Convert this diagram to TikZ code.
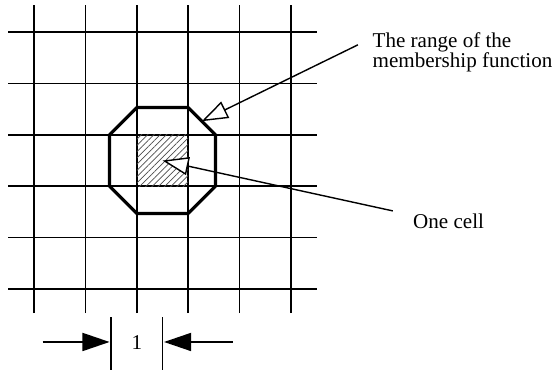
\documentclass[tikz,border=0pt]{standalone}
\usepackage{fontspec}
\setmainfont{Liberation Serif}
\usetikzlibrary{positioning,calc,arrows.meta,patterns.meta}
\tikzset{
  lbl/.style={font=\fontsize{10.5}{10}\selectfont,align=left,inner sep=0pt},
  gridline/.style={line width=0.8pt},
  callout/.style={line width=0.7pt,-{Triangle[fill=white,length=13pt,width=9pt]}},
  dimarrow/.style={line width=0.8pt,-{Triangle[length=13.5pt,width=9pt]}}
}

\begin{document}
\begin{tikzpicture}[x=0.9cm,y=0.9cm]
\useasboundingbox (-0.661,-1.693) rectangle (10.097,5.623);
% grid
\foreach \i in {0,...,5}{
  \draw[gridline] (\i,-0.47)--(\i,5.52);
  \draw[gridline] (-0.5,\i)--(5.5,\i);
}
% one cell
\fill[pattern={Lines[angle=45,distance=2.2pt,line width=0.4pt]},pattern color=black!70] (2,2) rectangle (3,3);
\coordinate (cellmid) at (2.5,2.5);
% range of the membership function
\coordinate (o1) at (2,3.53);
\coordinate (o2) at (3,3.53);
\coordinate (o3) at (3.53,3);
\coordinate (o4) at (3.53,2);
\coordinate (o5) at (3,1.47);
\coordinate (o6) at (2,1.47);
\coordinate (o7) at (1.47,2);
\coordinate (o8) at (1.47,3);
\draw[line width=1.6pt,line join=round] (o1)--(o2)--(o3)--(o4)--(o5)--(o6)--(o7)--(o8)--cycle;
% labels
\node[lbl,anchor=west] (rangelbl) at (6.58,4.61) {The range of the\\membership function};
\node[lbl,anchor=west] (celllbl) at (7.37,1.325) {One cell};
\draw[callout] ([shift={(-0.28,0.14)}]rangelbl.west) -- ($(o2)!0.5!(o3)$);
\draw[callout] ([shift={(-0.39,0.195)}]celllbl.west) -- (cellmid);
% width of one cell
\draw[line width=0.9pt] (1.5,-0.55)--(1.5,-1.58);
\draw[line width=0.9pt] (2.5,-0.55)--(2.5,-1.58);
\node[lbl] (one) at (2,-1.05) {1};
\coordinate (barL) at (1.47,-1.03);
\coordinate (barR) at (2.53,-1.03);
\coordinate (tailL) at (0.17,-1.03);
\coordinate (tailR) at (3.87,-1.03);
\draw[dimarrow] (tailL) -- (barL);
\draw[dimarrow] (tailR) -- (barR);
\end{tikzpicture}
\end{document}
